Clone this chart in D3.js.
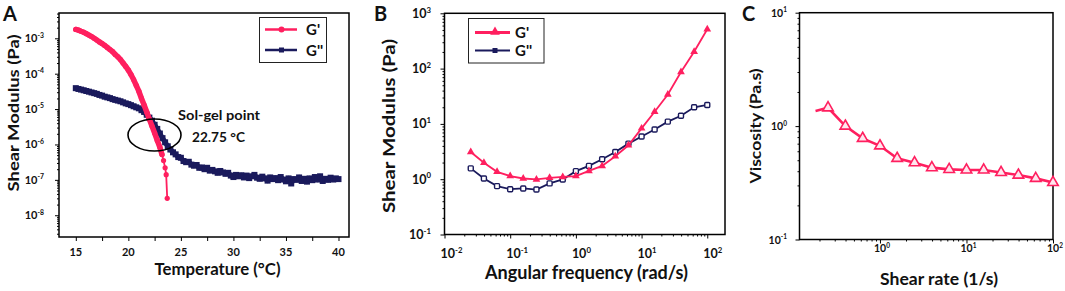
<!DOCTYPE html>
<html>
<head>
<meta charset="utf-8" />
<title>Rheology panels</title>
<script src="https://cdnjs.cloudflare.com/ajax/libs/d3/7.8.5/d3.min.js"></script>
<style>
  body { margin: 0; background: #fff; }
  svg { display: block; font-family: Lato, 'Open Sans', sans-serif; font-weight: bold; }
</style>
</head>
<body>
<svg id="chart" width="1065" height="291"></svg>
<script>
// ---- panel A: temperature sweep ----
let tempsGpA = [15, 15.25, 15.5, 15.75, 16, 16.25, 16.5, 16.75, 17, 17.25, 17.5, 17.75, 18, 18.25, 18.5, 18.75,
  19, 19.25, 19.5, 19.75, 20, 20.25, 20.5, 20.75, 21, 21.25, 21.5, 21.75, 22, 22.25, 22.5, 22.75, 23,
  23.2, 23.35, 23.5, 23.6, 23.7]
let gpA = [1.78e-3, 1.70e-3, 1.58e-3, 1.48e-3, 1.35e-3, 1.23e-3, 1.12e-3, 1.0e-3, 8.9e-4, 7.9e-4, 7.1e-4, 6.3e-4,
  5.5e-4, 4.8e-4, 4.2e-4, 3.5e-4, 3.0e-4, 2.5e-4, 2.0e-4, 1.6e-4, 1.26e-4, 9.5e-5, 6.8e-5, 4.7e-5, 3.2e-5,
  2.0e-5, 1.3e-5, 8.3e-6, 5.2e-6, 3.3e-6, 2.1e-6, 1.3e-6, 8.3e-7, 5.2e-7, 3.5e-7, 2.2e-7, 1.4e-7, 3.0e-8]

let tempsGppA = [15, 15.25, 15.5, 15.75, 16, 16.25, 16.5, 16.75, 17, 17.25, 17.5, 17.75, 18, 18.25, 18.5, 18.75,
  19, 19.25, 19.5, 19.75, 20, 20.25, 20.5, 20.75, 21, 21.25, 21.5, 21.75, 22, 22.25, 22.5, 22.75,
  23, 23.25, 23.5, 23.75, 24, 24.25, 24.5, 24.75, 25, 25.25, 25.5, 25.75, 26, 26.25, 26.5, 26.75,
  27, 27.25, 27.5, 27.75, 28, 28.25, 28.5, 28.75, 29, 29.25, 29.5, 29.75, 30, 30.25, 30.5, 30.75,
  31, 31.25, 31.5, 31.75, 32, 32.25, 32.5, 32.75, 33, 33.25, 33.5, 33.75, 34, 34.25, 34.5, 34.75,
  35, 35.25, 35.5, 35.75, 36, 36.25, 36.5, 36.75, 37, 37.25, 37.5, 37.75, 38, 38.25, 38.5, 38.75,
  39, 39.25, 39.5, 39.75, 40]
let gppA = [3.9e-5, 3.7e-5, 3.55e-5, 3.4e-5, 3.24e-5, 3.1e-5, 2.95e-5, 2.82e-5, 2.69e-5, 2.51e-5, 2.4e-5, 2.24e-5,
  2.14e-5, 2.04e-5, 1.91e-5, 1.82e-5, 1.74e-5, 1.66e-5, 1.55e-5, 1.45e-5, 1.38e-5, 1.29e-5, 1.2e-5, 1.12e-5,
  1.05e-5, 9.3e-6, 8.3e-6, 6.9e-6, 5.75e-6, 4.7e-6, 3.6e-6, 2.75e-6, 2.04e-6, 1.51e-6, 1.15e-6, 8.9e-7,
  7.2e-7, 6.0e-7, 5.25e-7, 4.4e-7, 4.2e-7, 3.4e-7, 3.16e-7, 3.24e-7, 2.69e-7, 2.51e-7, 2.63e-7, 2.19e-7,
  2.24e-7, 2.0e-7, 2.19e-7, 1.82e-7, 1.91e-7, 1.74e-7, 1.58e-7, 1.78e-7, 1.62e-7, 1.48e-7, 1.58e-7, 1.32e-7,
  1.2e-7, 1.38e-7, 1.26e-7, 1.35e-7, 1.17e-7, 1.32e-7, 1.12e-7, 1.26e-7, 1.38e-7, 1.15e-7, 1.07e-7, 1.23e-7,
  1.1e-7, 9.5e-8, 1.17e-7, 1.05e-7, 1.12e-7, 9.8e-8, 1.2e-7, 1.02e-7, 9.1e-8, 1.1e-7, 7.9e-8, 1.05e-7,
  1.0e-7, 1.17e-7, 9.3e-8, 1.07e-7, 8.9e-8, 1.1e-7, 9.8e-8, 1.2e-7, 1.02e-7, 1.26e-7, 9.3e-8, 1.07e-7,
  1.0e-7, 1.15e-7, 1.02e-7, 1.1e-7, 1.05e-7]
let tempTicks = [15, 20, 25, 30, 35, 40]

// ---- panel B: frequency sweep ----
let freqB = [0.0251, 0.0398, 0.0631, 0.1, 0.158, 0.251, 0.398, 0.631, 1, 1.58, 2.51, 3.98, 6.31, 10, 15.8, 25.1, 39.8, 63.1, 100]
let gpB = [3.1, 1.98, 1.36, 1.14, 1.03, 0.99, 1.06, 1.1, 1.14, 1.41, 1.74, 2.6, 4.1, 8.3, 16.6, 34, 87, 202, 515]
let gppB = [1.57, 1.03, 0.75, 0.66, 0.68, 0.65, 0.84, 0.99, 1.4, 1.74, 2.3, 3.1, 4.4, 5.9, 7.9, 11, 14, 20, 22]

// ---- panel C: flow curve ----
let rateC = [0.18, 0.251, 0.398, 0.631, 1, 1.58, 2.51, 3.98, 6.31, 10, 15.8, 25.1, 39.8, 63.1, 100]
let viscC = [1.36, 1.45, 1.0, 0.78, 0.67, 0.52, 0.475, 0.43, 0.415, 0.41, 0.41, 0.39, 0.37, 0.346, 0.318]

let red = '#ff1f5f', navy = '#1a1a5c'
let svg = d3.select('#chart')

function powLabel(g, x, y, exp, size, anchor) {
  let t = g.append('text').attr('x', x).attr('y', y).attr('text-anchor', anchor)
    .style('font-size', size + 'px').attr('fill', '#111')
  t.append('tspan').text('10')
  t.append('tspan').attr('dy', -size * 0.42).style('font-size', (size * 0.62) + 'px').text(exp)
}

function logMinors(lo, hi) {
  let out = []
  for (let e = Math.floor(Math.log10(lo)); e <= Math.ceil(Math.log10(hi)); e++) {
    for (let k = 2; k <= 9; k++) {
      let v = k * Math.pow(10, e)
      if (v >= lo && v <= hi) out.push(v)
    }
  }
  return out
}

function tickAxis(g, axis, values, size) {
  let a = g.append('g').call(axis.tickValues(values).tickSize(size).tickFormat(''))
  a.select('.domain').remove()
  a.selectAll('line').attr('stroke', '#000').attr('stroke-width', 1)
}

function frame(g, x0, y0, x1, y1) {
  g.append('rect').attr('x', x0).attr('y', y0).attr('width', x1 - x0).attr('height', y1 - y0)
    .attr('fill', 'none').attr('stroke', '#000').attr('stroke-width', 1.5)
}

function title(g, txt, x, y, size, len, rotate) {
  g.append('text')
    .attr('transform', 'translate(' + x + ',' + y + ')' + (rotate ? ' rotate(-90)' : ''))
    .attr('text-anchor', 'middle').attr('dy', rotate ? '0.36em' : 0)
    .attr('textLength', len).attr('lengthAdjust', 'spacingAndGlyphs')
    .style('font-size', size + 'px').attr('fill', '#111').text(txt)
}

// ================= Panel A =================
{
  let g = svg.append('g')
  let x = d3.scaleLinear().domain([13.4, 41]).range([59, 349])
  let y = d3.scaleLog().domain([Math.pow(10, -8.615), Math.pow(10, -2.285)]).range([237, 13])

  tickAxis(g.append('g').attr('transform', 'translate(0,237)'), d3.axisBottom(x),
    [15, 17.5, 20, 22.5, 25, 27.5, 30, 32.5, 35, 37.5, 40], 4)
  tickAxis(g.append('g').attr('transform', 'translate(59,0)'), d3.axisLeft(y), [1e-8, 1e-7, 1e-6, 1e-5, 1e-4, 1e-3], 4)
  tickAxis(g.append('g').attr('transform', 'translate(59,0)'), d3.axisLeft(y), logMinors(y.domain()[0], y.domain()[1]), 2)
  frame(g, 59, 13, 349, 237)

  tempTicks.forEach(function(t) {
    g.append('text').attr('x', x(t)).attr('y', 256).attr('text-anchor', 'middle')
      .style('font-size', '11px').attr('fill', '#111').text(t)
  })
  ;[-8, -7, -6, -5, -4, -3].forEach(function(e) {
    powLabel(g, 44, y(Math.pow(10, e)) + 4, String(e), 11, 'end')
  })

  let gppData = tempsGppA.map(function(t, i) { return { t: t, v: gppA[i] } })
  let gpData = tempsGpA.map(function(t, i) { return { t: t, v: gpA[i] } })
  let line = d3.line().x(function(d) { return x(d.t) }).y(function(d) { return y(d.v) })

  // G'' : dense squares
  g.append('path').attr('d', line(gppData)).attr('fill', 'none').attr('stroke', navy)
    .attr('stroke-width', 5).attr('stroke-linejoin', 'round')
  g.selectAll('rect.gpp').data(gppData).enter().append('rect').attr('class', 'gpp')
    .attr('x', function(d) { return x(d.t) - 3 }).attr('y', function(d) { return y(d.v) - 3 })
    .attr('width', 6).attr('height', 6).attr('fill', navy)

  // G' : dense circles
  g.append('path').attr('d', line.defined(function(d) { return d.t <= 23.2 })(gpData)).attr('fill', 'none')
    .attr('stroke', red).attr('stroke-width', 5.5).attr('stroke-linecap', 'round')
  line.defined(function() { return true })
  g.append('path').attr('d', line(gpData)).attr('fill', 'none').attr('stroke', red).attr('stroke-width', 1.8)
  g.selectAll('circle.gp').data(gpData).enter().append('circle').attr('class', 'gp')
    .attr('cx', function(d) { return x(d.t) }).attr('cy', function(d) { return y(d.v) })
    .attr('r', 2.6).attr('fill', red)

  // sol-gel annotation
  g.append('ellipse').attr('cx', 154.5).attr('cy', 135).attr('rx', 26.5).attr('ry', 16)
    .attr('fill', 'none').attr('stroke', '#000').attr('stroke-width', 1.6)
  g.append('text').attr('x', 219).attr('y', 120).attr('text-anchor', 'middle').attr('textLength', 82)
    .attr('lengthAdjust', 'spacingAndGlyphs').style('font-size', '13px').attr('fill', '#111').text('Sol-gel point')
  g.append('text').attr('x', 218.5).attr('y', 142).attr('text-anchor', 'middle').attr('textLength', 53)
    .attr('lengthAdjust', 'spacingAndGlyphs').style('font-size', '13px').attr('fill', '#111').text('22.75 °C')

  // legend
  g.append('rect').attr('x', 259.5).attr('y', 17.5).attr('width', 67).attr('height', 45)
    .attr('fill', '#fff').attr('stroke', '#222').attr('stroke-width', 1)
  g.append('line').attr('x1', 265).attr('x2', 297).attr('y1', 29.5).attr('y2', 29.5).attr('stroke', red).attr('stroke-width', 2.5)
  g.append('circle').attr('cx', 281.5).attr('cy', 29.5).attr('r', 3).attr('fill', red)
  g.append('line').attr('x1', 265).attr('x2', 297).attr('y1', 50).attr('y2', 50).attr('stroke', navy).attr('stroke-width', 2.5)
  g.append('rect').attr('x', 279).attr('y', 47.5).attr('width', 5).attr('height', 5).attr('fill', navy)
  g.append('text').attr('x', 306).attr('y', 35).style('font-size', '15px').attr('fill', '#111').text("G'")
  g.append('text').attr('x', 306).attr('y', 56).style('font-size', '15px').attr('fill', '#111').text("G''")

  title(g, 'Temperature (°C)', 217.5, 275, 17, 126, false)
  title(g, 'Shear Modulus (Pa)', 13, 113, 16, 157, true)
  g.append('text').attr('x', 3).attr('y', 21).style('font-size', '20px').attr('fill', '#111').text('A')
}

// ================= Panel B =================
{
  let g = svg.append('g')
  let x = d3.scaleLog().domain([0.01, Math.pow(10, 2.27)]).range([444.5, 725])
  let y = d3.scaleLog().domain([0.1, 1000]).range([234.5, 13.3])

  tickAxis(g.append('g').attr('transform', 'translate(0,234.5)'), d3.axisBottom(x), [0.01, 0.1, 1, 10, 100], 4)
  tickAxis(g.append('g').attr('transform', 'translate(0,234.5)'), d3.axisBottom(x), logMinors(x.domain()[0], x.domain()[1]), 2)
  tickAxis(g.append('g').attr('transform', 'translate(444.5,0)'), d3.axisLeft(y), [0.1, 1, 10, 100, 1000], 4)
  tickAxis(g.append('g').attr('transform', 'translate(444.5,0)'), d3.axisLeft(y), logMinors(0.1, 1000), 2)
  frame(g, 444.5, 13.3, 725, 234.5)

  ;[-2, -1, 0, 1, 2].forEach(function(e) {
    powLabel(g, x(Math.pow(10, e)) - 4, 258, String(e), 12.5, 'start')
  })
  ;[-1, 0, 1, 2, 3].forEach(function(e) {
    powLabel(g, 431, y(Math.pow(10, e)) + 4.5, String(e), 12.5, 'end')
  })

  let gpData = freqB.map(function(f, i) { return { f: f, v: gpB[i] } })
  let gppData = freqB.map(function(f, i) { return { f: f, v: gppB[i] } })
  let line = d3.line().x(function(d) { return x(d.f) }).y(function(d) { return y(d.v) })
  let tri = d3.symbol(d3.symbolTriangle).size(26)

  g.append('path').attr('d', line(gppData)).attr('fill', 'none').attr('stroke', navy).attr('stroke-width', 1.8)
  g.selectAll('rect.gpp').data(gppData).enter().append('rect').attr('class', 'gpp')
    .attr('x', function(d) { return x(d.f) - 2.5 }).attr('y', function(d) { return y(d.v) - 2.5 })
    .attr('width', 5).attr('height', 5).attr('rx', 1)
    .attr('fill', '#fff').attr('stroke', navy).attr('stroke-width', 1.4)

  g.append('path').attr('d', line(gpData)).attr('fill', 'none').attr('stroke', red).attr('stroke-width', 1.8)
  g.selectAll('path.gp').data(gpData).enter().append('path').attr('class', 'gp')
    .attr('transform', function(d) { return 'translate(' + x(d.f) + ',' + y(d.v) + ')' })
    .attr('d', tri).attr('fill', red)

  // legend
  g.append('rect').attr('x', 468.5).attr('y', 18.5).attr('width', 75.5).attr('height', 44.5)
    .attr('fill', '#fff').attr('stroke', '#222').attr('stroke-width', 1)
  g.append('line').attr('x1', 475).attr('x2', 510).attr('y1', 32.5).attr('y2', 32.5).attr('stroke', red).attr('stroke-width', 3)
  g.append('path').attr('transform', 'translate(495,32)').attr('d', d3.symbol(d3.symbolTriangle).size(40)).attr('fill', red)
  g.append('line').attr('x1', 475).attr('x2', 510).attr('y1', 50.5).attr('y2', 50.5).attr('stroke', navy).attr('stroke-width', 2)
  g.append('rect').attr('x', 492.5).attr('y', 48).attr('width', 5).attr('height', 5).attr('fill', navy)
  g.append('text').attr('x', 515).attr('y', 38).style('font-size', '15px').attr('fill', '#111').text("G'")
  g.append('text').attr('x', 515).attr('y', 56).style('font-size', '15px').attr('fill', '#111').text("G''")

  title(g, 'Angular frequency (rad/s)', 586.5, 279, 18, 203, false)
  title(g, 'Shear Modulus (Pa)', 389, 126, 17, 174, true)
  g.append('text').attr('x', 374).attr('y', 21).style('font-size', '20px').attr('fill', '#111').text('B')
}

// ================= Panel C =================
{
  let g = svg.append('g')
  let x = d3.scaleLog().domain([Math.pow(10, -0.93), 100]).range([799.5, 1053])
  let y = d3.scaleLog().domain([0.1, 10]).range([239.5, 12.7])

  tickAxis(g.append('g').attr('transform', 'translate(0,239.5)'), d3.axisBottom(x), [1, 10, 100], 4)
  tickAxis(g.append('g').attr('transform', 'translate(0,239.5)'), d3.axisBottom(x), logMinors(x.domain()[0], 100), 2)
  tickAxis(g.append('g').attr('transform', 'translate(799.5,0)'), d3.axisLeft(y), [0.1, 1, 10], 4)
  tickAxis(g.append('g').attr('transform', 'translate(799.5,0)'), d3.axisLeft(y), logMinors(0.1, 10), 2)
  frame(g, 799.5, 12.7, 1053, 239.5)

  ;[0, 1, 2].forEach(function(e) {
    powLabel(g, x(Math.pow(10, e)) - 6, 252, String(e), 10.5, 'start')
  })
  ;[-1, 0, 1].forEach(function(e) {
    powLabel(g, 787, y(Math.pow(10, e)) + 4, String(e), 10.5, 'end')
  })

  let data = rateC.map(function(r, i) { return { r: r, v: viscC[i] } })
  let line = d3.line().x(function(d) { return x(d.r) }).y(function(d) { return y(d.v) })
  g.append('path').attr('d', line(data)).attr('fill', 'none').attr('stroke', red).attr('stroke-width', 2.6)
  g.selectAll('path.pt').data(data.slice(1)).enter().append('path').attr('class', 'pt')
    .attr('transform', function(d) { return 'translate(' + x(d.r) + ',' + y(d.v) + ')' })
    .attr('d', d3.symbol(d3.symbolTriangle).size(48))
    .attr('fill', '#ffe6ee').attr('stroke', red).attr('stroke-width', 1.6)

  title(g, 'Shear rate (1/s)', 939, 285, 17, 118, false)
  title(g, 'Viscosity (Pa.s)', 755, 126, 16, 115, true)
  g.append('text').attr('x', 742).attr('y', 21).style('font-size', '20px').attr('fill', '#111').text('C')
}
</script>
</body>
</html>
